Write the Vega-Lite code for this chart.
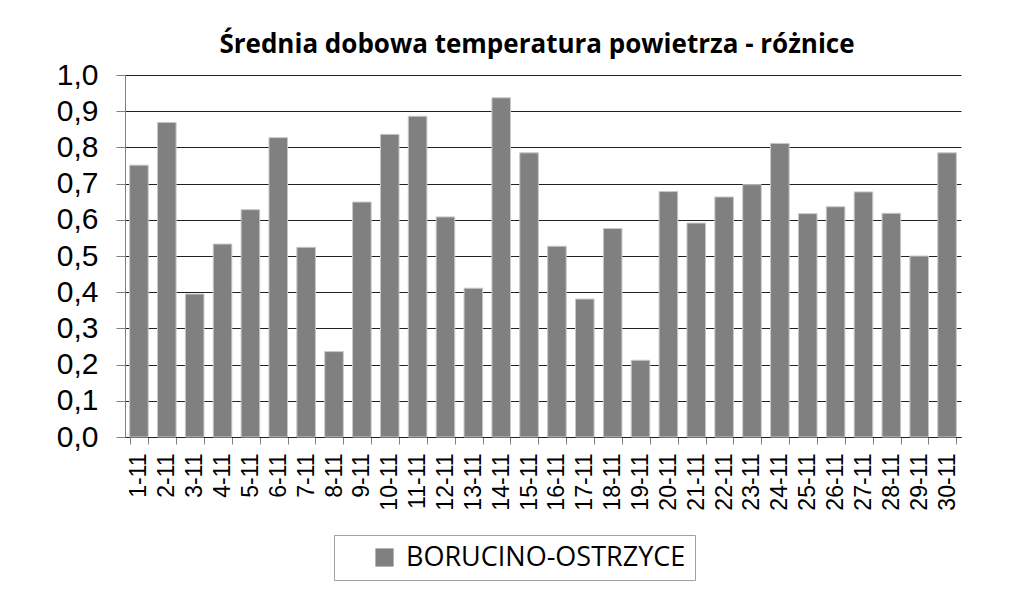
{
  "$schema": "https://vega.github.io/schema/vega-lite/v6.json",
  "width": 836,
  "height": 362,
  "autosize": {"type": "none"},
  "padding": {"left": 125, "top": 75, "right": 68, "bottom": 158},
  "background": "white",
  "title": {
    "text": "Średnia dobowa temperatura powietrza - różnice",
    "font": "Open Sans",
    "fontWeight": "bold",
    "fontSize": 26,
    "color": "#000000",
    "anchor": "middle",
    "offset": 2,
    "dx": -6
  },
  "data": {
    "values": [
      {"day": "1-11", "value": 0.751, "series": "BORUCINO-OSTRZYCE"},
      {"day": "2-11", "value": 0.869, "series": "BORUCINO-OSTRZYCE"},
      {"day": "3-11", "value": 0.395, "series": "BORUCINO-OSTRZYCE"},
      {"day": "4-11", "value": 0.533, "series": "BORUCINO-OSTRZYCE"},
      {"day": "5-11", "value": 0.628, "series": "BORUCINO-OSTRZYCE"},
      {"day": "6-11", "value": 0.827, "series": "BORUCINO-OSTRZYCE"},
      {"day": "7-11", "value": 0.524, "series": "BORUCINO-OSTRZYCE"},
      {"day": "8-11", "value": 0.236, "series": "BORUCINO-OSTRZYCE"},
      {"day": "9-11", "value": 0.649, "series": "BORUCINO-OSTRZYCE"},
      {"day": "10-11", "value": 0.836, "series": "BORUCINO-OSTRZYCE"},
      {"day": "11-11", "value": 0.886, "series": "BORUCINO-OSTRZYCE"},
      {"day": "12-11", "value": 0.608, "series": "BORUCINO-OSTRZYCE"},
      {"day": "13-11", "value": 0.411, "series": "BORUCINO-OSTRZYCE"},
      {"day": "14-11", "value": 0.937, "series": "BORUCINO-OSTRZYCE"},
      {"day": "15-11", "value": 0.785, "series": "BORUCINO-OSTRZYCE"},
      {"day": "16-11", "value": 0.527, "series": "BORUCINO-OSTRZYCE"},
      {"day": "17-11", "value": 0.381, "series": "BORUCINO-OSTRZYCE"},
      {"day": "18-11", "value": 0.576, "series": "BORUCINO-OSTRZYCE"},
      {"day": "19-11", "value": 0.212, "series": "BORUCINO-OSTRZYCE"},
      {"day": "20-11", "value": 0.678, "series": "BORUCINO-OSTRZYCE"},
      {"day": "21-11", "value": 0.591, "series": "BORUCINO-OSTRZYCE"},
      {"day": "22-11", "value": 0.663, "series": "BORUCINO-OSTRZYCE"},
      {"day": "23-11", "value": 0.697, "series": "BORUCINO-OSTRZYCE"},
      {"day": "24-11", "value": 0.811, "series": "BORUCINO-OSTRZYCE"},
      {"day": "25-11", "value": 0.617, "series": "BORUCINO-OSTRZYCE"},
      {"day": "26-11", "value": 0.636, "series": "BORUCINO-OSTRZYCE"},
      {"day": "27-11", "value": 0.677, "series": "BORUCINO-OSTRZYCE"},
      {"day": "28-11", "value": 0.618, "series": "BORUCINO-OSTRZYCE"},
      {"day": "29-11", "value": 0.5, "series": "BORUCINO-OSTRZYCE"},
      {"day": "30-11", "value": 0.785, "series": "BORUCINO-OSTRZYCE"}
    ]
  },
  "mark": {"type": "bar", "stroke": "#c8c8c8", "strokeWidth": 1},
  "encoding": {
    "x": {
      "field": "day",
      "type": "nominal",
      "sort": null,
      "scale": {"paddingInner": 0.3333, "paddingOuter": 0.1667},
      "axis": {
        "title": null,
        "labelAngle": -90,
        "labelAlign": "right",
        "labelBaseline": "middle",
        "labelFont": "Liberation Sans",
        "labelFontSize": 23,
        "labelColor": "#000000",
        "labelPadding": 9,
        "tickBand": "extent",
        "tickSize": 7,
        "tickColor": "#808080",
        "domainColor": "#202020",
        "grid": false
      }
    },
    "y": {
      "field": "value",
      "type": "quantitative",
      "scale": {"domain": [0, 1], "nice": false, "zero": true},
      "axis": {
        "title": null,
        "values": [0, 0.1, 0.2, 0.3, 0.4, 0.5, 0.6, 0.7, 0.8, 0.9, 1.0],
        "labelExpr": "replace(format(datum.value, '.1f'), '.', ',')",
        "labelFont": "Liberation Sans",
        "labelFontSize": 30,
        "labelColor": "#000000",
        "labelPadding": 18,
        "tickSize": 9,
        "tickColor": "#808080",
        "domainColor": "#808080",
        "grid": true,
        "gridColor": "#202020",
        "gridWidth": 1
      }
    },
    "color": {
      "field": "series",
      "type": "nominal",
      "scale": {"range": ["#808080"]},
      "legend": {
        "title": null,
        "orient": "none",
        "legendX": 209,
        "legendY": 460,
        "direction": "horizontal",
        "symbolType": "square",
        "symbolSize": 330,
        "symbolStrokeWidth": 0,
        "symbolOffset": 28,
        "labelFont": "Open Sans",
        "labelFontSize": 27,
        "labelColor": "#000000",
        "labelLimit": 400,
        "labelOffset": 8,
        "padding": 9,
        "strokeColor": "#a0a0a0",
        "fillColor": "#ffffff"
      }
    }
  },
  "config": {
    "view": {"stroke": null}
  }
}
